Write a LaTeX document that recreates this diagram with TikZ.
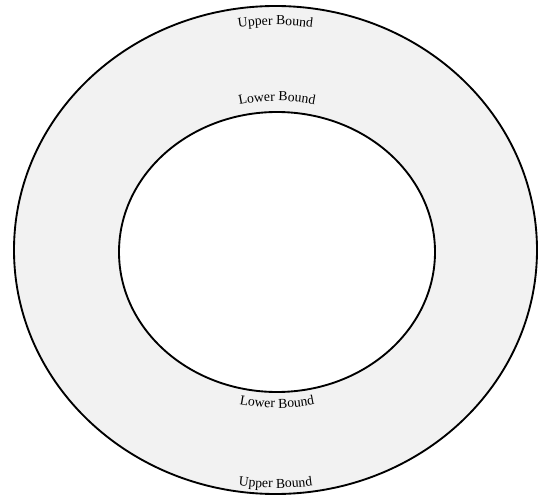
\documentclass[tikz,border=0pt]{standalone}
\usepackage{fontspec}
\setmainfont{Liberation Serif}
\usepackage{tikz}
\usetikzlibrary{decorations.text}
\definecolor{ring-fill}{HTML}{F2F2F2}
\newcommand\boundfont{\fontsize{10.3}{12}\selectfont}
\tikzset{
  bound/.style={
    draw=black, line width=1.4pt
  },
  boundlabel/.style={
    decorate,
    decoration={text along path, text align=center,
                text={|\boundfont|#1}}
  },
}

\begin{document}
\begin{tikzpicture}[x=0.75pt, y=0.75pt]
  \useasboundingbox (0,0) rectangle (539,497);
  \coordinate (outer) at (275.5,247);
  \coordinate (inner) at (277,245);

  % the two bounds
  \draw[bound, fill=ring-fill] (outer) ellipse[x radius=261.5, y radius=244];
  \draw[bound, fill=white]     (inner) ellipse[x radius=158, y radius=140];

  % labels along the bounds
  \path[boundlabel={Upper Bound}] ([shift={(110:242.5 and 225)}]outer)
    arc[start angle=110, end angle=70, x radius=242.5, y radius=225];
  \path[boundlabel={Lower Bound}] ([shift={(120:169 and 151)}]inner)
    arc[start angle=120, end angle=60, x radius=169, y radius=151];
  \path[boundlabel={Lower Bound}] ([shift={(240:174 and 156)}]inner)
    arc[start angle=240, end angle=300, x radius=174, y radius=156];
  \path[boundlabel={Upper Bound}] ([shift={(250:255 and 238)}]outer)
    arc[start angle=250, end angle=290, x radius=255, y radius=238];

\end{tikzpicture}
\end{document}
